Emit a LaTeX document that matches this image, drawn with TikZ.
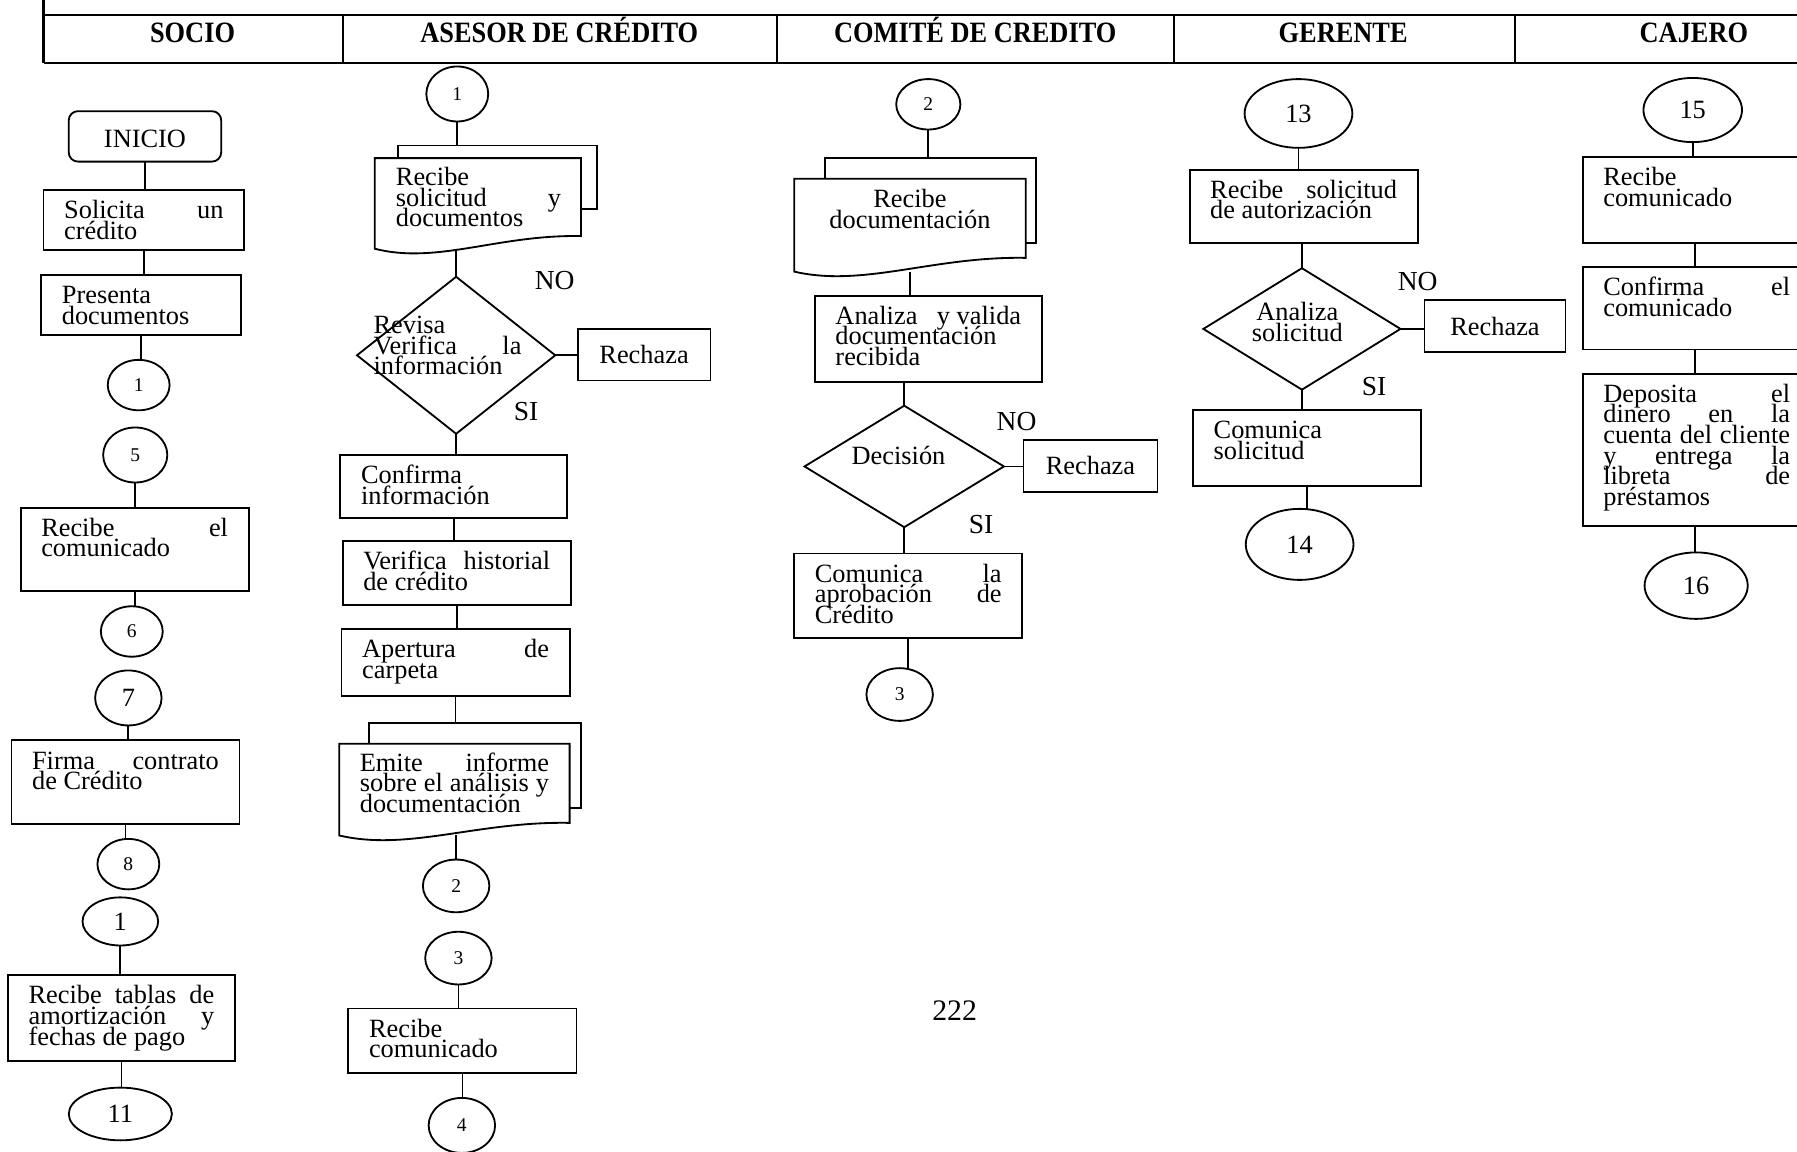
\documentclass[tikz,border=0pt]{standalone}
\usepackage{fontspec}
\usepackage{graphicx}
\setmainfont{Liberation Serif}
\usetikzlibrary{shapes.geometric}

\tikzset{
  lw/.style={line width=1.6pt},
  hdr/.style={line width=2.4pt},
  sepline/.style={line width=1.7pt},
  frame/.style={inner sep=0pt, outer sep=0pt, draw=none},
  pbox/.style={draw, lw, rectangle, inner sep=0pt, outer sep=0pt, font=\fontsize{23}{18}\selectfont},
  term/.style={draw, lw, rectangle, rounded corners=8pt, inner sep=0pt, outer sep=0pt, font=\fontsize{23}{23}\selectfont},
  conn/.style={draw, lw, ellipse, inner sep=0pt, outer sep=0pt, font=\fontsize{23}{23}\selectfont},
  connsm/.style={conn, font=\fontsize{17}{17}\selectfont},
  decis/.style={draw, lw, diamond, inner sep=0pt, outer sep=0pt},
  txt/.style={inner sep=0pt, outer sep=0pt, font=\fontsize{23}{18}\selectfont},
  head/.style={inner sep=0pt, anchor=base, font=\fontsize{23}{23}\selectfont\bfseries},
  yesno/.style={inner sep=0pt, font=\fontsize{24}{24}\selectfont},
  link/.style={lw},
}

% text lines inside a box: ragged right, fixed line distance
\newcommand\Lines{\raggedright\lineskiplimit=-100pt\relax}
% bold lane title, slightly tall
\newcommand\Title[1]{\scalebox{1}[1.12]{#1}}

% process box: name, x1, y1, x2, y2, text
\newcommand\ProcBox[6]{%
  \pgfmathsetmacro\bw{#4-#2}\pgfmathsetmacro\bh{#5-#3}\pgfmathsetmacro\tw{#4-#2-36}%
  \node[pbox, minimum width=\bw pt, minimum height=\bh pt] (#1) at ({(#2+#4)/2},{(#3+#5)/2}) {};
  \node[txt, anchor=base west] (#1-t) at ({#2+18},{#3+25}) {\parbox[t]{\tw pt}{\Lines #6}};
}
% connector circle: [style], name, cx, cy, rx, ry, text
\newcommand\Conn[7][conn]{%
  \node[#1, minimum width={2*#5}, minimum height={2*#6}] (#2) at (#3,#4) {#7};
}
% vertical and horizontal links
\newcommand\Vlink[2]{\draw[link] (#1.south) -- (#1.south |- #2.north);}
\newcommand\VlinkB[2]{\draw[link] (#2.north |- #1.south) -- (#2.north);}
\newcommand\Hlink[2]{\draw[link] (#1.east) -- (#1.east -| #2.west);}

\begin{document}
\begin{tikzpicture}[x=1pt,y=-1pt]
\useasboundingbox (0,0) rectangle (1568,1005);

% ---------- lane header ----------
\draw[hdr] (38,0) -- (38,55);
\draw[hdr] (38,13) -- (1570,13);
\draw[hdr] (38,55) -- (1570,55);
\foreach \sx in {299,678,1024,1322} \draw[sepline] (\sx,13) -- (\sx,55);
\node[head] (h1) at (168,37) {\Title{SOCIO}};
\node[head] (h2) at (488,37) {\Title{ASESOR DE CRÉDITO}};
\node[head] (h3) at (851,37) {\Title{COMITÉ DE CREDITO}};
\node[head] (h4) at (1172,37) {\Title{GERENTE}};
\node[head] (h5) at (1478,37) {\Title{CAJERO}};

% ---------- SOCIO ----------
\node[term, minimum width=133pt, minimum height=44pt, text height=20pt] (inicio) at (126.5,119) {INICIO};
\ProcBox{sol}{38}{166}{213}{218}{Solicita\hfill un\\crédito}
\ProcBox{pres}{36}{240}{210}{292}{Presenta\\documentos}
\Conn[connsm]{s1}{121}{336}{27}{22}{1}
\Conn[connsm]{s5}{118}{397}{28}{24}{5}
\ProcBox{recel}{18}{443}{217}{516}{Recibe\hfill el\\comunicado}
\Conn[connsm]{s6}{115}{551}{27}{22}{6}
\Conn{s7}{112}{609}{29}{24}{7}
\ProcBox{firma}{10}{646}{209}{719}{Firma\hfill contrato\\de Crédito}
\Conn[connsm]{s8}{112}{754}{27}{22}{8}
\Conn{s1b}{105}{804}{33}{21}{1}
\ProcBox{tablas}{7}{851}{205}{926}{Recibe\hfill tablas\hfill de\\amortización\hfill y\\fechas de pago}
\Conn{s11}{105}{972}{45}{23}{11}

\Vlink{inicio}{sol}
\Vlink{sol}{pres}
\Vlink{pres}{s1}
\Vlink{s5}{recel}
\Vlink{recel}{s6}
\Vlink{s7}{firma}
\Vlink{firma}{s8}
\Vlink{s1b}{tablas}
\Vlink{tablas}{s11}

% ---------- ASESOR DE CREDITO ----------
\Conn[connsm]{a1}{399}{82}{27}{24}{1}
% stacked documents: received request
\node[frame, minimum width=174pt, minimum height=55pt] (doc1b) at (434,154.5) {};
\node[frame, minimum width=180pt, minimum height=79pt] (doc1) at (417,177.5) {};
\draw[lw] (doc1b.north west |- doc1.north) -- (doc1b.north west) -- (doc1b.north east)
  -- (doc1b.south east) -- (doc1b.south east -| doc1.east);
\draw[lw] (327,217) -- (327,138) -- (507,138) -- (507,206)
  .. controls (435,204.5) and (381,231) .. (327,217) -- cycle;
\node[txt, anchor=base west] (doc1-t) at (345.5,162) {\parbox[t]{144pt}{\Lines Recibe\\solicitud\hfill y\\documentos}};

\node[decis, minimum width=173pt, minimum height=137pt] (d1) at (398,310) {};
\node[txt, anchor=base west] (d1-t) at (326,291) {\parbox[t]{129pt}{\Lines Revisa\\Verifica\hfill la\\información}};
\node[pbox, minimum width=116pt, minimum height=45pt] (r1) at (562,309.5) {Rechaza};
\node[yesno] (no1) at (484,245) {NO};
\node[yesno] (si1) at (459,359) {SI};

\ProcBox{conf}{297}{397}{495}{452}{Confirma\\información}
\ProcBox{hist}{299}{472}{498}{528}{Verifica\hfill historial\\de crédito}
\ProcBox{aper}{298}{549}{497}{607}{Apertura\hfill de\\carpeta}

% stacked documents: report
\node[frame, minimum width=185pt, minimum height=74pt] (doc2b) at (414.5,668) {};
\node[frame, minimum width=201pt, minimum height=80pt] (doc2) at (396.5,689) {};
\draw[lw] (doc2b.north west |- doc2.north) -- (doc2b.north west) -- (doc2b.north east)
  -- (doc2b.south east) -- (doc2b.south east -| doc2.east);
\draw[lw] (296,729) -- (296,649) -- (497,649) -- (497,718)
  .. controls (416.6,716.5) and (356.3,743) .. (296,729) -- cycle;
\node[txt, anchor=base west] (doc2-t) at (314,673) {\parbox[t]{165pt}{\Lines Emite\hfill informe\\sobre\hfill el\hfill análisis\hfill y\\documentación}};

\Conn[connsm]{a2}{398}{773}{29}{23}{2}
\Conn[connsm]{a3}{400}{836}{29}{23}{3}
\ProcBox{reccom}{304}{880}{503}{936}{Recibe\\comunicado}
\Conn[connsm]{a4}{403}{982}{29}{24}{4}

\Vlink{a1}{doc1b}
\VlinkB{doc1}{d1}
\Hlink{d1}{r1}
\Vlink{d1}{conf}
\Vlink{conf}{hist}
\Vlink{hist}{aper}
\draw[link] (aper.south) -- (aper.south |- doc2b.north);
\VlinkB{doc2}{a2}
\Vlink{a3}{reccom}
\Vlink{reccom}{a4}

% ---------- COMITE DE CREDITO ----------
\Conn[connsm]{c2}{810}{91}{28}{22}{2}
\node[frame, minimum width=184pt, minimum height=74pt] (doc3b) at (812,175) {};
\node[frame, minimum width=202pt, minimum height=81pt] (doc3) at (794,196.5) {};
\draw[lw] (doc3b.north west |- doc3.north) -- (doc3b.north west) -- (doc3b.north east)
  -- (doc3b.south east) -- (doc3b.south east -| doc3.east);
\draw[lw] (693,237) -- (693,156) -- (895,156) -- (895,225)
  .. controls (814.2,223.5) and (753.6,251) .. (693,237) -- cycle;
\node[txt, anchor=base] (doc3-t) at (794,181) {\parbox[t]{166pt}{\centering\lineskiplimit=-100pt\relax Recibe\\documentación}};

\ProcBox{ana}{711}{258}{909}{333}{Analiza\hfill y valida\\documentación\\recibida}
\node[decis, minimum width=174pt, minimum height=106pt] (d2) at (789,407) {};
\node[txt, anchor=base] (d2-t) at (784,405) {Decisión};
\node[pbox, minimum width=117pt, minimum height=45pt] (r2) at (951.5,406.5) {Rechaza};
\node[yesno] (no2) at (887,368) {NO};
\node[yesno] (si2) at (856,458) {SI};
\ProcBox{com}{693}{483}{892}{557}{Comunica\hfill la\\aprobación\hfill de\\Crédito}
\Conn[connsm]{c3}{785}{606}{29}{23}{3}

\Vlink{c2}{doc3b}
\Vlink{doc3}{ana}
\VlinkB{ana}{d2}
\Hlink{d2}{r2}
\Vlink{d2}{com}
\Vlink{com}{c3}

% ---------- GERENTE ----------
\Conn{g13}{1133}{99}{47}{30}{13}
\ProcBox{rsa}{1038}{148}{1237}{212}{Recibe\hfill solicitud\\de autorización}
\node[decis, minimum width=172pt, minimum height=106pt] (d3) at (1136,287) {};
\node[txt, anchor=base] (d3-t) at (1132,280) {\parbox[t]{120pt}{\centering\lineskiplimit=-100pt\relax Analiza\\solicitud}};
\node[pbox, minimum width=123pt, minimum height=45pt] (r3) at (1304.5,284.5) {Rechaza};
\node[yesno] (no3) at (1237,246) {NO};
\node[yesno] (si3) at (1199,337) {SI};
\ProcBox{coms}{1041}{358}{1240}{424}{Comunica\\solicitud}
\Conn{g14}{1134}{475}{47}{31}{14}

\Vlink{g13}{rsa}
\VlinkB{rsa}{d3}
\Hlink{d3}{r3}
\Vlink{d3}{coms}
\Vlink{coms}{g14}

% ---------- CAJERO ----------
\Conn{k15}{1477}{96}{43}{28}{15}
\ProcBox{kr}{1381}{137}{1580}{212}{Recibe\\comunicado}
\ProcBox{kc}{1381}{233}{1580}{305}{Confirma\hfill el\\comunicado}
\ProcBox{kd}{1381}{326}{1580}{459}{Deposita\hfill el\\dinero\hfill en\hfill la\\cuenta\hfill del\hfill cliente\\y\hfill entrega\hfill la\\libreta\hfill de\\préstamos}
\Conn{k16}{1480}{511}{45}{29}{16}

\draw[link] (k15.south) -- (k15.south |- kr.north);
\draw[link] (1479,212) -- (1479,233);
\draw[link] (1479,305) -- (1479,326);
\draw[link] (1479,459) -- (k16.north -| 1479,0);

% page number
\node[inner sep=0pt, font=\fontsize{26}{26}\selectfont] (pg) at (833,882) {222};
\end{tikzpicture}
\end{document}
